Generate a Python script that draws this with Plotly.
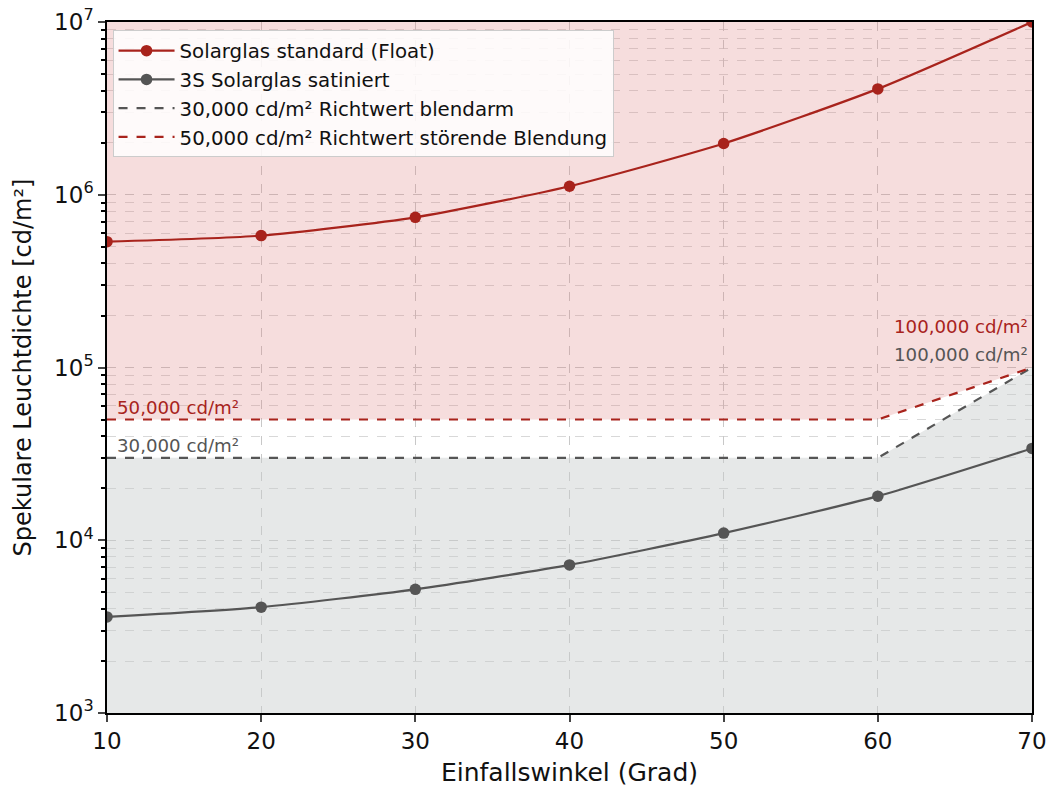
import math
import plotly.graph_objects as go

angles = [10, 20, 30, 40, 50, 60, 70]
float_vals = [5.35e5, 5.8e5, 7.4e5, 1.12e6, 1.98e6, 4.1e6, 1.0e7]
satin_vals = [3.6e3, 4.1e3, 5.2e3, 7.2e3, 1.1e4, 1.8e4, 3.4e4]
thr_x = [10, 60, 70]
thr_blendarm = [3e4, 3e4, 1e5]
thr_stoerend = [5e4, 5e4, 1e5]
y_min, y_max = 1e3, 1e7
ytick_vals = [1e3, 1e4, 1e5, 1e6, 1e7]
ytick_text = ["10<sup>3</sup>", "10<sup>4</sup>", "10<sup>5</sup>", "10<sup>6</sup>", "10<sup>7</sup>"]

RED = "#a8231c"
GRAY = "#555555"
FONT = "DejaVu Sans"

fig = go.Figure()

# filled zones
fig.add_trace(go.Scatter(
    x=thr_x + [thr_x[-1], thr_x[0]],
    y=thr_stoerend + [y_max, y_max],
    fill="toself", fillcolor="rgba(220,120,120,0.25)",
    line=dict(width=0), mode="lines", hoverinfo="skip", showlegend=False))
fig.add_trace(go.Scatter(
    x=thr_x + [thr_x[-1], thr_x[0]],
    y=thr_blendarm + [y_min, y_min],
    fill="toself", fillcolor="rgba(200,205,205,0.45)",
    line=dict(width=0), mode="lines", hoverinfo="skip", showlegend=False))

fig.add_trace(go.Scatter(
    x=angles, y=float_vals, mode="lines+markers", name="Solarglas standard (Float)",
    line=dict(color=RED, width=2.2, shape="spline", smoothing=0.6),
    marker=dict(color=RED, size=11.5)))
fig.add_trace(go.Scatter(
    x=angles, y=satin_vals, mode="lines+markers", name="3S Solarglas satiniert",
    line=dict(color=GRAY, width=2.2, shape="spline", smoothing=0.6),
    marker=dict(color=GRAY, size=11.5)))
fig.add_trace(go.Scatter(
    x=thr_x, y=thr_blendarm, mode="lines", name="30,000 cd/m² Richtwert blendarm",
    line=dict(color=GRAY, width=2.2, dash="dash")))
fig.add_trace(go.Scatter(
    x=thr_x, y=thr_stoerend, mode="lines", name="50,000 cd/m² Richtwert störende Blendung",
    line=dict(color=RED, width=2.2, dash="dash")))

ann_font = dict(family=FONT, size=18.2)
fig.add_annotation(x=10.55, y=math.log10(thr_stoerend[0]), xref="x", yref="y",
                   text="50,000 cd/m²", showarrow=False, xanchor="left", yanchor="bottom",
                   yshift=0, font=dict(color=RED, **ann_font))
fig.add_annotation(x=10.55, y=math.log10(thr_blendarm[0]), xref="x", yref="y",
                   text="30,000 cd/m²", showarrow=False, xanchor="left", yanchor="bottom",
                   yshift=0, font=dict(color=GRAY, **ann_font))
fig.add_annotation(x=69.9, y=math.log10(thr_stoerend[-1]), xref="x", yref="y",
                   text="100,000 cd/m²", showarrow=False, xanchor="right", yanchor="bottom",
                   yshift=29, font=dict(color=RED, **ann_font))
fig.add_annotation(x=69.9, y=math.log10(thr_blendarm[-1]), xref="x", yref="y",
                   text="100,000 cd/m²", showarrow=False, xanchor="right", yanchor="bottom",
                   yshift=1, font=dict(color=GRAY, **ann_font))

fig.update_layout(
    width=1051, height=789,
    margin=dict(l=107, r=19, t=22, b=76),
    paper_bgcolor="white", plot_bgcolor="white",
    font=dict(family=FONT, color="#111111"),
    legend=dict(x=0.006, y=0.988, xanchor="left", yanchor="top",
                bgcolor="rgba(255,255,255,0.85)", bordercolor="#cccccc", borderwidth=1,
                font=dict(family=FONT, size=19.8), tracegroupgap=0, itemwidth=56),
    xaxis=dict(range=[10, 70], tickvals=angles, ticks="outside", ticklen=7, tickwidth=1.5,
               showline=True, linecolor="black", linewidth=1.5, mirror=True,
               showgrid=True, gridcolor="#c8c8c8", griddash="dash", gridwidth=1,
               tickfont=dict(size=23, family=FONT), automargin=False, ticklabeloverflow="allow",
               title=dict(text="Einfallswinkel (Grad)", font=dict(size=25, family=FONT), standoff=10),
               zeroline=False),
    yaxis=dict(type="log", range=[3, 7], tickvals=ytick_vals, ticktext=ytick_text,
               ticks="outside", ticklen=7, tickwidth=1.5,
               showline=True, linecolor="black", linewidth=1.5, mirror=True,
               showgrid=True, gridcolor="#c8c8c8", griddash="dash", gridwidth=1,
               minor=dict(ticks="outside", ticklen=4, tickcolor="black", showgrid=True,
                          gridcolor="#d8d8d8", griddash="dash", gridwidth=0.8,
                          dtick="D1"),
               tickfont=dict(size=23, family=FONT), automargin=False, ticklabeloverflow="allow",
               title=dict(text="Spekulare Leuchtdichte [cd/m²]", font=dict(size=24, family=FONT), standoff=16),
               zeroline=False),
)

fig.write_html("out.html",
               config={"displayModeBar": False},
               post_script="document.body.style.margin='0';document.body.style.overflow='hidden';")
